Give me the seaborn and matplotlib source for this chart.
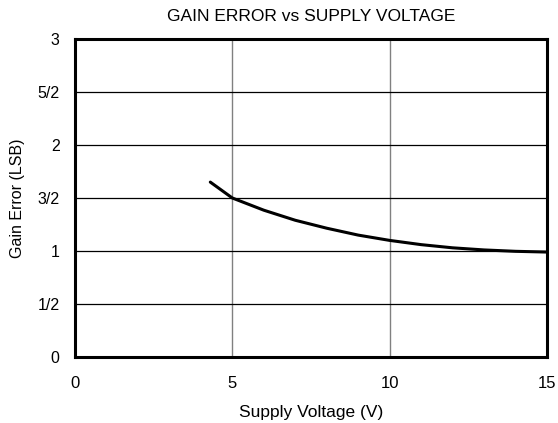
import numpy as np
import pandas as pd
import matplotlib
matplotlib.use("Agg")
import matplotlib.pyplot as plt
import seaborn as sns

sns.set_style("white")
plt.rcParams["font.family"] = ["Liberation Sans", "DejaVu Sans"]
plt.rcParams["text.color"] = "black"
plt.rcParams["axes.labelcolor"] = "black"
plt.rcParams["xtick.color"] = "black"
plt.rcParams["ytick.color"] = "black"

# values
supply_v = [4.3, 5, 6, 7, 8, 9, 10, 11, 12, 13, 14, 15]
gain_err = [1.65, 1.5, 1.385, 1.29, 1.215, 1.15, 1.10, 1.06, 1.03, 1.01, 0.997, 0.99]

y_ticks = [0, 0.5, 1, 1.5, 2, 2.5, 3]
y_labels = ["0", "1/2", "1", "3/2", "2", "5/2", "3"]
x_ticks = [0, 5, 10, 15]

df = pd.DataFrame({"v": supply_v, "err": gain_err})

fig = plt.figure(figsize=(5.58, 4.23), dpi=100)
ax = fig.add_axes([75 / 558, 1 - 357 / 423, 472 / 558, 318 / 423])

# grid
for x in x_ticks[1:-1]:
    ax.axvline(x, color="#808080", lw=1.0, zorder=1)
for y in y_ticks[1:-1]:
    ax.axhline(y, color="black", lw=0.9, zorder=1)

sns.lineplot(data=df, x="v", y="err", color="black", lw=2.2, ax=ax, zorder=3)

ax.set_xlim(0, 15)
ax.set_ylim(0, 3)
ax.set_xticks(x_ticks)
ax.set_yticks(y_ticks)
ax.set_yticklabels(y_labels)
ax.tick_params(axis="x", length=0, pad=14, labelsize=12)
ax.tick_params(axis="y", length=0, pad=11, labelsize=11.5)

for s in ax.spines.values():
    s.set_visible(True)
    s.set_color("black")
    s.set_linewidth(2.2)

ax.set_xlabel("Supply Voltage (V)", fontsize=12.5, labelpad=10)
ax.set_ylabel("Gain Error (LSB)", fontsize=11.5, labelpad=9)
ax.set_title("GAIN ERROR vs SUPPLY VOLTAGE", fontsize=12.5, pad=13)

fig.savefig("out.png", dpi=100)
